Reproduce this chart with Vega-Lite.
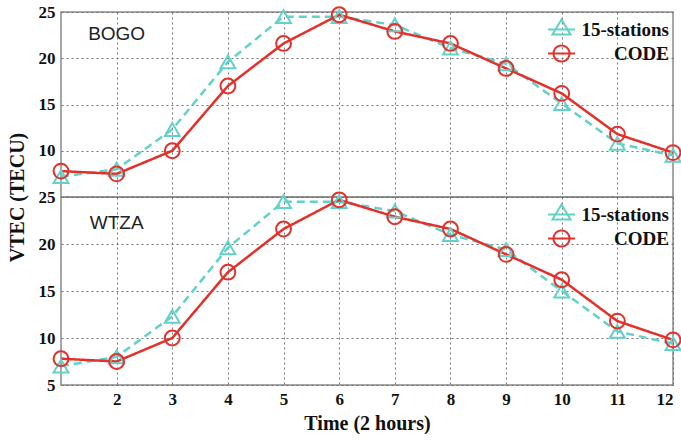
{
  "$schema": "https://vega.github.io/schema/vega-lite/v6.json",
  "padding": {"left": 6, "top": 2, "right": 0, "bottom": 0},
  "background": "white",
  "spacing": 0,
  "bounds": "flush",
  "config": {
    "view": {"stroke": "#8a8a8a", "strokeWidth": 1.5},
    "axis": {
      "labelFont": "Liberation Serif", "labelFontWeight": "bold", "labelFontSize": 17, "labelColor": "#111",
      "titleFont": "Liberation Serif", "titleFontWeight": "bold", "titleFontSize": 20, "titleColor": "#111",
      "domain": false, "ticks": false, "labelPadding": 6,
      "grid": true, "gridColor": "#666", "gridDash": [2, 3], "gridWidth": 1, "gridOpacity": 0.9
    },
    "legend": {
      "labelFont": "Liberation Serif", "labelFontWeight": "bold", "labelFontSize": 19, "labelColor": "#111"
    }
  },
  "datasets": {
    "vtec": [
      {"station": "BOGO", "series": "15-stations", "time": 1, "value": 7.2},
      {"station": "BOGO", "series": "15-stations", "time": 2, "value": 8.0},
      {"station": "BOGO", "series": "15-stations", "time": 3, "value": 12.3},
      {"station": "BOGO", "series": "15-stations", "time": 4, "value": 19.6},
      {"station": "BOGO", "series": "15-stations", "time": 5, "value": 24.5},
      {"station": "BOGO", "series": "15-stations", "time": 6, "value": 24.5},
      {"station": "BOGO", "series": "15-stations", "time": 7, "value": 23.6},
      {"station": "BOGO", "series": "15-stations", "time": 8, "value": 21.1},
      {"station": "BOGO", "series": "15-stations", "time": 9, "value": 19.4},
      {"station": "BOGO", "series": "15-stations", "time": 10, "value": 15.1},
      {"station": "BOGO", "series": "15-stations", "time": 11, "value": 10.8},
      {"station": "BOGO", "series": "15-stations", "time": 12, "value": 9.5},
      {"station": "BOGO", "series": "CODE", "time": 1, "value": 7.8},
      {"station": "BOGO", "series": "CODE", "time": 2, "value": 7.5},
      {"station": "BOGO", "series": "CODE", "time": 3, "value": 10.0},
      {"station": "BOGO", "series": "CODE", "time": 4, "value": 17.0},
      {"station": "BOGO", "series": "CODE", "time": 5, "value": 21.6},
      {"station": "BOGO", "series": "CODE", "time": 6, "value": 24.7},
      {"station": "BOGO", "series": "CODE", "time": 7, "value": 22.9},
      {"station": "BOGO", "series": "CODE", "time": 8, "value": 21.6},
      {"station": "BOGO", "series": "CODE", "time": 9, "value": 18.9},
      {"station": "BOGO", "series": "CODE", "time": 10, "value": 16.2},
      {"station": "BOGO", "series": "CODE", "time": 11, "value": 11.8},
      {"station": "BOGO", "series": "CODE", "time": 12, "value": 9.8},
      {"station": "WTZA", "series": "15-stations", "time": 1, "value": 7.0},
      {"station": "WTZA", "series": "15-stations", "time": 2, "value": 8.0},
      {"station": "WTZA", "series": "15-stations", "time": 3, "value": 12.3},
      {"station": "WTZA", "series": "15-stations", "time": 4, "value": 19.6},
      {"station": "WTZA", "series": "15-stations", "time": 5, "value": 24.5},
      {"station": "WTZA", "series": "15-stations", "time": 6, "value": 24.5},
      {"station": "WTZA", "series": "15-stations", "time": 7, "value": 23.5},
      {"station": "WTZA", "series": "15-stations", "time": 8, "value": 21.0},
      {"station": "WTZA", "series": "15-stations", "time": 9, "value": 19.4},
      {"station": "WTZA", "series": "15-stations", "time": 10, "value": 15.0},
      {"station": "WTZA", "series": "15-stations", "time": 11, "value": 10.7},
      {"station": "WTZA", "series": "15-stations", "time": 12, "value": 9.4},
      {"station": "WTZA", "series": "CODE", "time": 1, "value": 7.8},
      {"station": "WTZA", "series": "CODE", "time": 2, "value": 7.5},
      {"station": "WTZA", "series": "CODE", "time": 3, "value": 10.0},
      {"station": "WTZA", "series": "CODE", "time": 4, "value": 17.0},
      {"station": "WTZA", "series": "CODE", "time": 5, "value": 21.6},
      {"station": "WTZA", "series": "CODE", "time": 6, "value": 24.7},
      {"station": "WTZA", "series": "CODE", "time": 7, "value": 22.9},
      {"station": "WTZA", "series": "CODE", "time": 8, "value": 21.6},
      {"station": "WTZA", "series": "CODE", "time": 9, "value": 18.9},
      {"station": "WTZA", "series": "CODE", "time": 10, "value": 16.2},
      {"station": "WTZA", "series": "CODE", "time": 11, "value": 11.8},
      {"station": "WTZA", "series": "CODE", "time": 12, "value": 9.8}
    ]
  },
  "vconcat": [
    {
      "width": 612, "height": 185,
      "data": {"name": "vtec"},
      "transform": [{"filter": "datum.station === 'BOGO'"}],
      "layer": [
        {
          "mark": {"type": "line", "strokeWidth": 2.5},
          "encoding": {
            "x": {"field": "time", "type": "quantitative", "scale": {"domain": [1, 12], "nice": false, "zero": false},
                  "axis": {"values": [2,3,4,5,6,7,8,9,10,11], "labels": false, "title": null}},
            "y": {"field": "value", "type": "quantitative", "scale": {"domain": [5, 25], "nice": false, "zero": false},
                  "axis": {"values": [10,15,20,25], "title": "VTEC (TECU)", "titleY": 185, "titleAlign": "center", "titlePadding": 11}},
            "color": {"field": "series", "type": "nominal", "scale": {"domain": ["15-stations", "CODE"], "range": ["#62d2c9", "#e3302a"]},
              "legend": {"title": null, "orient": "top-right", "offset": 4, "padding": 0, "rowPadding": 0, "symbolSize": 625, "symbolStrokeWidth": 2, "labelOffset": 94, "labelAlign": "right",
                "encode": {"symbols": {"update": {"shape": {"signal": "datum.value === 'CODE' ? 'M-1.08,0L1.08,0M0.64,0A0.64,0.64 0 1 1 -0.64,0A0.64,0.64 0 1 1 0.64,0' : 'M-1.08,0L1.08,0M0,-0.8L0.72,0.4L-0.72,0.4Z'"}, "fill": {"value": "transparent"}, "strokeDash": {"value": [1, 0]}}}}}},
            "strokeDash": {"field": "series", "type": "nominal", "scale": {"domain": ["15-stations", "CODE"], "range": [[8, 5], [1, 0]]}, "legend": null}
          }
        },
        {
          "transform": [{"filter": "datum.series === '15-stations'"}],
          "mark": {"type": "point", "shape": "triangle-up", "filled": false, "strokeWidth": 2, "size": 220, "opacity": 1},
          "encoding": {
            "x": {"field": "time", "type": "quantitative"},
            "y": {"field": "value", "type": "quantitative"},
            "color": {"field": "series", "type": "nominal"}
          }
        },
        {
          "transform": [{"filter": "datum.series === 'CODE'"}],
          "mark": {"type": "point", "shape": "circle", "filled": false, "strokeWidth": 2, "size": 220, "opacity": 1},
          "encoding": {
            "x": {"field": "time", "type": "quantitative"},
            "y": {"field": "value", "type": "quantitative"},
            "color": {"field": "series", "type": "nominal"}
          }
        },
        {
          "data": {"values": [{"station": "BOGO"}]},
          "mark": {"type": "text", "font": "Liberation Sans", "fontSize": 19, "color": "#222", "align": "center", "baseline": "middle"},
          "encoding": {
            "x": {"datum": 2.0, "type": "quantitative"},
            "y": {"datum": 22.6, "type": "quantitative"},
            "text": {"field": "station"}
          }
        }
      ]
    },
    {
      "width": 612, "height": 188,
      "data": {"name": "vtec"},
      "transform": [{"filter": "datum.station === 'WTZA'"}],
      "layer": [
        {
          "mark": {"type": "line", "strokeWidth": 2.5},
          "encoding": {
            "x": {"field": "time", "type": "quantitative", "scale": {"domain": [1, 12], "nice": false, "zero": false},
                  "axis": {"values": [2,3,4,5,6,7,8,9,10,11,12], "format": "d", "title": "Time (2 hours)", "titlePadding": 6}},
            "y": {"field": "value", "type": "quantitative", "scale": {"domain": [5, 25], "nice": false, "zero": false},
                  "axis": {"values": [5,10,15,20,25], "title": null}},
            "color": {"field": "series", "type": "nominal", "scale": {"domain": ["15-stations", "CODE"], "range": ["#62d2c9", "#e3302a"]},
              "legend": {"title": null, "orient": "top-right", "offset": 4, "padding": 0, "rowPadding": 0, "symbolSize": 625, "symbolStrokeWidth": 2, "labelOffset": 94, "labelAlign": "right",
                "encode": {"symbols": {"update": {"shape": {"signal": "datum.value === 'CODE' ? 'M-1.08,0L1.08,0M0.64,0A0.64,0.64 0 1 1 -0.64,0A0.64,0.64 0 1 1 0.64,0' : 'M-1.08,0L1.08,0M0,-0.8L0.72,0.4L-0.72,0.4Z'"}, "fill": {"value": "transparent"}, "strokeDash": {"value": [1, 0]}}}}}},
            "strokeDash": {"field": "series", "type": "nominal", "scale": {"domain": ["15-stations", "CODE"], "range": [[8, 5], [1, 0]]}, "legend": null}
          }
        },
        {
          "transform": [{"filter": "datum.series === '15-stations'"}],
          "mark": {"type": "point", "shape": "triangle-up", "filled": false, "strokeWidth": 2, "size": 220, "opacity": 1},
          "encoding": {
            "x": {"field": "time", "type": "quantitative"},
            "y": {"field": "value", "type": "quantitative"},
            "color": {"field": "series", "type": "nominal"}
          }
        },
        {
          "transform": [{"filter": "datum.series === 'CODE'"}],
          "mark": {"type": "point", "shape": "circle", "filled": false, "strokeWidth": 2, "size": 220, "opacity": 1},
          "encoding": {
            "x": {"field": "time", "type": "quantitative"},
            "y": {"field": "value", "type": "quantitative"},
            "color": {"field": "series", "type": "nominal"}
          }
        },
        {
          "data": {"values": [{"station": "WTZA"}]},
          "mark": {"type": "text", "font": "Liberation Sans", "fontSize": 19, "color": "#222", "align": "center", "baseline": "middle"},
          "encoding": {
            "x": {"datum": 2.0, "type": "quantitative"},
            "y": {"datum": 22.2, "type": "quantitative"},
            "text": {"field": "station"}
          }
        }
      ]
    }
  ],
  "resolve": {"legend": {"color": "independent"}, "scale": {"color": "independent", "x": "independent", "y": "independent"}}
}
